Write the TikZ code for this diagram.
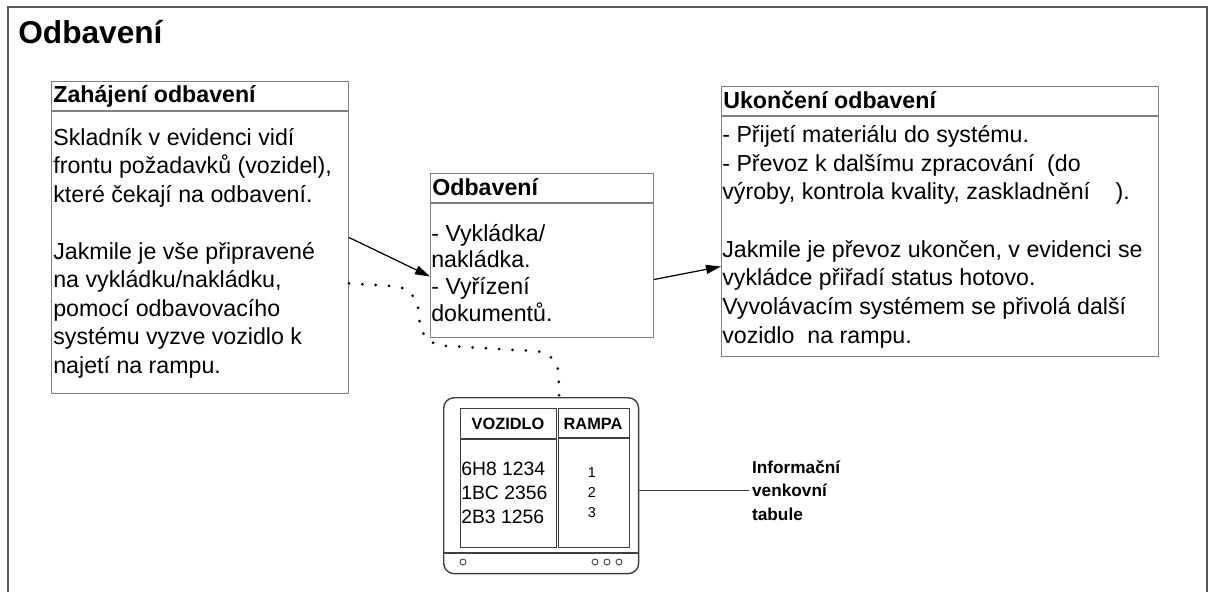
\documentclass[tikz,border=0pt]{standalone}
\usepackage{fontspec}
\setmainfont{Liberation Sans}
\usepackage{tikz}
\usetikzlibrary{arrows.meta,positioning}

\begin{document}
\begin{tikzpicture}[
    x=0.02cm, y=-0.02cm,
    frame/.style={draw=black!65, line width=1.4pt},
    box/.style={draw=black!50, line width=0.6pt, anchor=north west, inner sep=0pt},
    head/.style={anchor=base west, inner sep=0pt, font=\bfseries\fontsize{13.2}{16}\selectfont},
    body/.style={anchor=base west, inner sep=0pt, align=left, font=\fontsize{13.2}{16.2}\selectfont},
    arrow/.style={-{Triangle[length=0.3cm,width=0.18cm]}, line width=0.7pt},
    dots/.style={line width=1.7pt, line cap=round, dash pattern=on 0pt off 7.6pt},
    board/.style={draw=black!75, line width=0.8pt},
    tabh/.style={anchor=base, inner sep=0pt, font=\bfseries\fontsize{9.3}{11}\selectfont}
]
\useasboundingbox (0,0) rectangle (1211,592);
\draw[frame] (8,592) -- (8,7) -- (1207,7) -- (1207,592);
\node[anchor=base west, inner sep=0pt, font=\bfseries\fontsize{18}{20}\selectfont] (ttl) at (18,43) {Odbavení};

\node[box, minimum width=5.94cm, minimum height=6.24cm] (zb) at (51,81) {};
\draw[draw=black!50, line width=0.6pt] ([yshift=-0.6cm]zb.north west) -- ([yshift=-0.6cm]zb.north east);
\node[head] (zh) at (53,102) {Zahájení odbavení};
\node[body] (zt) at (53,373) {Skladník v evidenci vidí\\frontu požadavků (vozidel),\\které čekají na odbavení.\\[16.2pt]Jakmile je vše připravené\\na vykládku/nakládku,\\pomocí odbavovacího\\systému vyzve vozidlo k\\najetí na rampu.};

\node[box, minimum width=4.46cm, minimum height=3.28cm] (ob) at (430,173) {};
\draw[draw=black!50, line width=0.6pt] ([yshift=-0.6cm]ob.north west) -- ([yshift=-0.6cm]ob.north east);
\node[head] (oh) at (432,195) {Odbavení};
\node[body, font=\fontsize{13.2}{15.1}\selectfont] (ot) at (431,321) {- Vykládka/\\nakládka.\\- Vyřízení\\dokumentů.};

\node[box, minimum width=8.74cm, minimum height=5.4cm] (ub) at (721,86) {};
\draw[draw=black!50, line width=0.6pt] ([yshift=-0.6cm]ub.north west) -- ([yshift=-0.6cm]ub.north east);
\node[head] (uh) at (723,108) {Ukončení odbavení};
\node[body, font=\fontsize{13.2}{16.3}\selectfont] (ut) at (722,343) {- Přijetí materiálu do systému.\\- Převoz k dalšímu zpracování~ (do\\výroby, kontrola kvality, zaskladnění\hspace{1.1em}).\\[16.3pt]Jakmile je převoz ukončen, v evidenci se\\vykládce přiřadí status hotovo.\\Vyvolávacím systémem se přivolá další\\vozidlo~ na rampu.};

\draw[arrow] (zb.east) -- ([yshift=-0.42cm]ob.west);
\draw[arrow] ([yshift=-0.48cm]ob.east) -- ([yshift=-0.9cm]ub.west);

\node[board, rounded corners=6pt, minimum width=3.9cm, minimum height=3.52cm, anchor=north west, inner sep=0pt] (tb) at (443,397) {};
\draw[board] ([yshift=-3.12cm]tb.north west) -- ([yshift=-3.12cm]tb.north east);
\draw[board, line width=0.5pt] (463,562) circle (3);
\foreach \cx in {595,607,619}
    \draw[board, line width=0.5pt] (\cx,562) circle (3);
\node[board, minimum width=1.92cm, minimum height=2.78cm, anchor=north west, inner sep=0pt] (vz) at (460,408) {};
\node[board, minimum width=1.42cm, minimum height=2.78cm, anchor=north west, inner sep=0pt] (rp) at (558,408) {};
\draw[board] ([yshift=-0.62cm]vz.north west) -- ([yshift=-0.62cm]vz.north east);
\draw[board] ([yshift=-0.6cm]rp.north west) -- ([yshift=-0.6cm]rp.north east);
\node[tabh] (vzh) at (508,429) {VOZIDLO};
\node[tabh] (rph) at (593,429) {RAMPA};
\node[anchor=base west, inner sep=0pt, align=left, font=\fontsize{11}{13.6}\selectfont] (spz) at (461,523) {6H8 1234\\1BC 2356\\2B3 1256};
\node[anchor=base, inner sep=0pt, align=center, font=\fontsize{8.2}{11.3}\selectfont] (cis) at (592,517) {1\\2\\3};

\node[anchor=base west, inner xsep=1.6pt, inner ysep=0pt, align=left, font=\bfseries\fontsize{9.8}{13.3}\selectfont] (it) at (749,520) {Informační\\venkovní\\tabule};
\draw[board] (tb.east |- it.west) -- (it.west);

\draw[dots, rounded corners=12pt] ([yshift=-0.92cm]zb.east) -- ++(67,4) -- ++(6,57) -- ++(136,8) -- ([xshift=0.36cm]tb.north);
\end{tikzpicture}
\end{document}
